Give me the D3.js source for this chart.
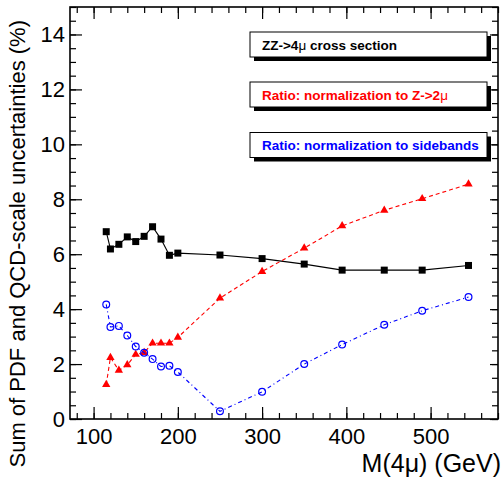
<!DOCTYPE html>
<html>
<head>
<meta charset="utf-8">
<script src="https://cdn.jsdelivr.net/npm/d3@7"></script>
<style>
    body { margin: 0; background: #fff; }
    svg { display: block; font-family: 'Liberation Sans', Arial, Helvetica, sans-serif; }
</style>
</head>
<body>
<div class="canvas"></div>
<script>
// Data
const mass = [115, 120, 130, 140, 150, 160, 170, 180, 190, 200, 250, 300, 350, 395, 445, 490, 545];
const zzCross = [6.82, 6.19, 6.36, 6.63, 6.46, 6.65, 7.00, 6.55, 5.96, 6.04, 5.97, 5.84, 5.64, 5.42, 5.42, 5.42, 5.59];
const ratioZ = [1.25, 2.24, 1.77, 1.97, 2.35, 2.42, 2.76, 2.76, 2.76, 2.97, 4.40, 5.37, 6.22, 7.03, 7.60, 8.02, 8.55];
const ratioSide = [4.17, 3.35, 3.39, 3.04, 2.64, 2.41, 2.18, 1.91, 1.94, 1.71, 0.28, 0.99, 2.00, 2.71, 3.43, 3.94, 4.44];

const xTicks = [100, 200, 300, 400, 500];
const yTicks = [0, 2, 4, 6, 8, 10, 12, 14];
const xMinor = d3.range(80, 581, 20);
const yMinor = d3.range(0, 15.01, 0.5);

const legendLabels = ['ZZ->4', 'Ratio: normalization to Z->2', 'Ratio: normalization to sidebands'];
const legendMu = [' cross section', '', null];

const margin = {top: 7, right: 6, bottom: 63, left: 70};
const outerWidth = 504;
const outerHeight = 482;
const graphWidth = outerWidth - margin.left - margin.right;
const graphHeight = outerHeight - margin.top - margin.bottom;

const svg = d3.select('.canvas')
    .append('svg')
    .attr('width', outerWidth)
    .attr('height', outerHeight);

const graph = svg.append('g')
    .attr('transform', `translate(${margin.left}, ${margin.top})`);

const x = d3.scaleLinear().domain([72, 580]).range([0, graphWidth]);
const y = d3.scaleLinear().domain([0, 15]).range([graphHeight, 0]);

// Ticks on all four sides, pointing inward
const tickGroup = (axis, transform) => {
    const g = graph.append('g')
        .attr('transform', transform || null)
        .call(axis);
    g.select('.domain').remove();
    g.selectAll('line').attr('stroke', '#000').attr('stroke-width', 1.2);
    return g;
};

tickGroup(d3.axisBottom(x).tickValues(xMinor).tickSize(-6).tickFormat(''), `translate(0, ${graphHeight})`);
tickGroup(d3.axisTop(x).tickValues(xMinor).tickSize(-6).tickFormat(''));
tickGroup(d3.axisLeft(y).tickValues(yMinor).tickSize(-6).tickFormat(''));
tickGroup(d3.axisRight(y).tickValues(yMinor).tickSize(-6).tickFormat(''), `translate(${graphWidth}, 0)`);

const xAxisGroup = tickGroup(d3.axisBottom(x).tickValues(xTicks).tickSize(-12).tickPadding(9),
    `translate(0, ${graphHeight})`);
tickGroup(d3.axisTop(x).tickValues(xTicks).tickSize(-12).tickFormat(''));
const yAxisGroup = tickGroup(d3.axisLeft(y).tickValues(yTicks).tickSize(-12).tickPadding(5));
tickGroup(d3.axisRight(y).tickValues(yTicks).tickSize(-8).tickFormat(''), `translate(${graphWidth}, 0)`);

xAxisGroup.selectAll('text').attr('font-size', 22).attr('font-family', null).attr('fill', '#000');
yAxisGroup.selectAll('text').attr('font-size', 22).attr('font-family', null).attr('fill', '#000');

// Frame
graph.append('rect')
    .attr('width', graphWidth)
    .attr('height', graphHeight)
    .attr('fill', 'none')
    .attr('stroke', '#000')
    .attr('stroke-width', 1.6);

// Series
const series = [
    {values: zzCross, color: '#000', dash: null, marker: 'square'},
    {values: ratioZ, color: '#ff0000', dash: '4,3', marker: 'triangle'},
    {values: ratioSide, color: '#0000ff', dash: '4,3,1,3', marker: 'circle'}
];

const line = d3.line()
    .x(d => x(d[0]))
    .y(d => y(d[1]));

series.forEach(s => {
    const pts = mass.map((m, i) => [m, s.values[i]]);

    graph.append('path')
        .datum(pts)
        .attr('fill', 'none')
        .attr('stroke', s.color)
        .attr('stroke-width', 1.1)
        .attr('stroke-dasharray', s.dash)
        .attr('d', line);

    const marks = graph.append('g').selectAll('.pt')
        .data(pts)
        .enter();

    if (s.marker === 'circle') {
        marks.append('circle')
            .attr('cx', d => x(d[0]))
            .attr('cy', d => y(d[1]))
            .attr('r', 3.4)
            .attr('fill', 'none')
            .attr('stroke', s.color)
            .attr('stroke-width', 1.2);
    } else {
        const sym = s.marker === 'square'
            ? d3.symbol().type(d3.symbolSquare).size(49)
            : d3.symbol().type(d3.symbolTriangle).size(30);
        marks.append('path')
            .attr('transform', d => `translate(${x(d[0])}, ${y(d[1])})`)
            .attr('d', sym)
            .attr('fill', s.color);
    }
});

// Legend boxes
const legendColors = ['#000', '#ff0000', '#0000ff'];
const boxTops = [32, 82, 132.5];

legendLabels.forEach((label, i) => {
    const g = svg.append('g').attr('transform', `translate(250, ${boxTops[i]})`);
    g.append('rect')
        .attr('x', 4).attr('y', 4)
        .attr('width', 237).attr('height', 25)
        .attr('fill', '#000');
    g.append('rect')
        .attr('width', 237).attr('height', 25)
        .attr('fill', '#fff')
        .attr('stroke', '#000')
        .attr('stroke-width', 1);
    const t = g.append('text')
        .attr('x', 12)
        .attr('y', 17.5)
        .attr('font-size', 13.5)
        .attr('font-weight', 'bold')
        .attr('fill', legendColors[i])
        .text(label);
    if (legendMu[i] !== null) {
        t.append('tspan').attr('font-weight', 'normal').text('\u03bc');
        if (legendMu[i]) t.append('tspan').text(legendMu[i]);
    }
});

// Axis titles
svg.append('text')
    .attr('x', 501)
    .attr('y', 472)
    .attr('text-anchor', 'end')
    .attr('font-size', 25)
    .text('M(4\u03bc) (GeV)');

svg.append('text')
    .attr('transform', 'translate(25, 20) rotate(-90)')
    .attr('text-anchor', 'end')
    .attr('font-size', 22)
    .text('Sum of PDF and QCD-scale uncertainties (%)');
</script>
</body>
</html>
